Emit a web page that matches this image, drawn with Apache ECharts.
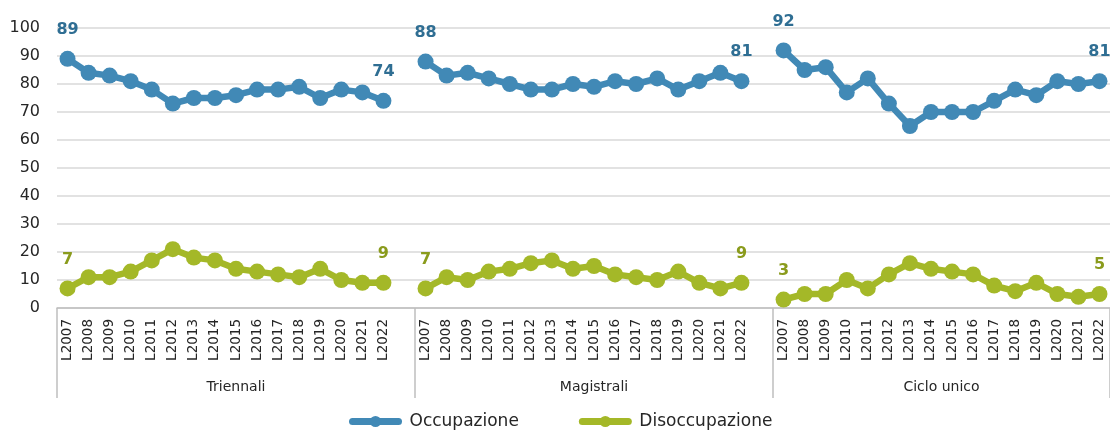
<!DOCTYPE html>
<html>
<head>
<meta charset="utf-8">
<script src="https://cdn.jsdelivr.net/npm/echarts@6/dist/echarts.min.js"></script>
<style>
html,body{margin:0;padding:0;background:#fff;}
#chart{width:1110px;height:430px;}
</style>
</head>
<body>
<div id="chart"></div>
<script>
var years = ['L2007','L2008','L2009','L2010','L2011','L2012','L2013','L2014','L2015','L2016','L2017','L2018','L2019','L2020','L2021','L2022'];
var groups = ['Triennali','Magistrali','Ciclo unico'];
var yTicks = [0,10,20,30,40,50,60,70,80,90,100];

var occTriennali = [89,84,83,81,78,73,75,75,76,78,78,79,75,78,77,74];
var occMagistrali = [88,83,84,82,80,78,78,80,79,81,80,82,78,81,84,81];
var occCiclo = [92,85,86,77,82,73,65,70,70,70,74,78,76,81,80,81];

var disTriennali = [7,11,11,13,17,21,18,17,14,13,12,11,14,10,9,9];
var disMagistrali = [7,11,10,13,14,16,17,14,15,12,11,10,13,9,7,9];
var disCiclo = [3,5,5,10,7,12,16,14,13,12,8,6,9,5,4,5];

var categories = years.concat([''], years, [''], years);
var labelIdx = [0,15,17,32,34,49];

function build(a,b,c){
  var arr = a.concat([null], b, [null], c);
  return arr.map(function(v,i){
    if (labelIdx.indexOf(i) >= 0 && v !== null) return {value:v, label:{show:true}};
    return v;
  });
}

var FONT = 'DejaVu Sans';
var blue = '#4189B6', green = '#A4B828';

var chart = echarts.init(document.getElementById('chart'));
chart.setOption({
  animation:false,
  textStyle:{fontFamily:FONT},
  grid:{left:57,right:0,top:28,bottom:122,containLabel:false},
  legend:{
    left:344, top:408,
    itemWidth:46, itemHeight:14, itemGap:60,
    lineStyle:{width:7,cap:'round'},
    textStyle:{fontFamily:FONT,fontSize:17,color:'#262626',padding:[0,0,0,6]},
    data:['Occupazione','Disoccupazione']
  },
  xAxis:[{
    type:'category', data:categories, boundaryGap:true,
    axisLine:{show:true,lineStyle:{color:'#BFBFBF',width:1.5}},
    axisTick:{show:false},
    axisLabel:{rotate:90,fontFamily:FONT,fontSize:13.5,color:'#262626',margin:11,interval:0}
  },{
    type:'value', min:0, max:50, position:'bottom',
    axisLine:{show:false},
    splitLine:{show:false},
    axisTick:{show:true,customValues:[0,17,34,50],length:90,lineStyle:{color:'#BFBFBF',width:1.5}},
    axisLabel:{show:true,customValues:[8.5,25.5,42],margin:72,fontFamily:FONT,fontSize:14,color:'#262626',
      formatter:function(v){ if (v===8.5) return groups[0]; if (v===25.5) return groups[1]; if (v===42) return groups[2]; return ''; }}
  }],
  yAxis:{
    type:'value', min:yTicks[0], max:yTicks[yTicks.length-1], interval:10,
    axisLine:{show:false}, axisTick:{show:false},
    splitLine:{lineStyle:{color:'#D9D9D9',width:1.5}},
    axisLabel:{fontFamily:FONT,fontSize:16,color:'#262626',margin:17}
  },
  series:[{
    name:'Occupazione', type:'line', xAxisIndex:0,
    data:build(occTriennali,occMagistrali,occCiclo),
    symbol:'circle', symbolSize:16, connectNulls:false,
    lineStyle:{color:blue,width:6.5}, itemStyle:{color:blue},
    label:{show:false,position:'top',distance:13,fontFamily:FONT,fontSize:16,fontWeight:'bold',color:'#2F6E93'}
  },{
    name:'Disoccupazione', type:'line', xAxisIndex:0,
    data:build(disTriennali,disMagistrali,disCiclo),
    symbol:'circle', symbolSize:16, connectNulls:false,
    lineStyle:{color:green,width:6.5}, itemStyle:{color:green},
    label:{show:false,position:'top',distance:13,fontFamily:FONT,fontSize:16,fontWeight:'bold',color:'#8A9B1C'}
  }]
});
</script>
</body>
</html>
